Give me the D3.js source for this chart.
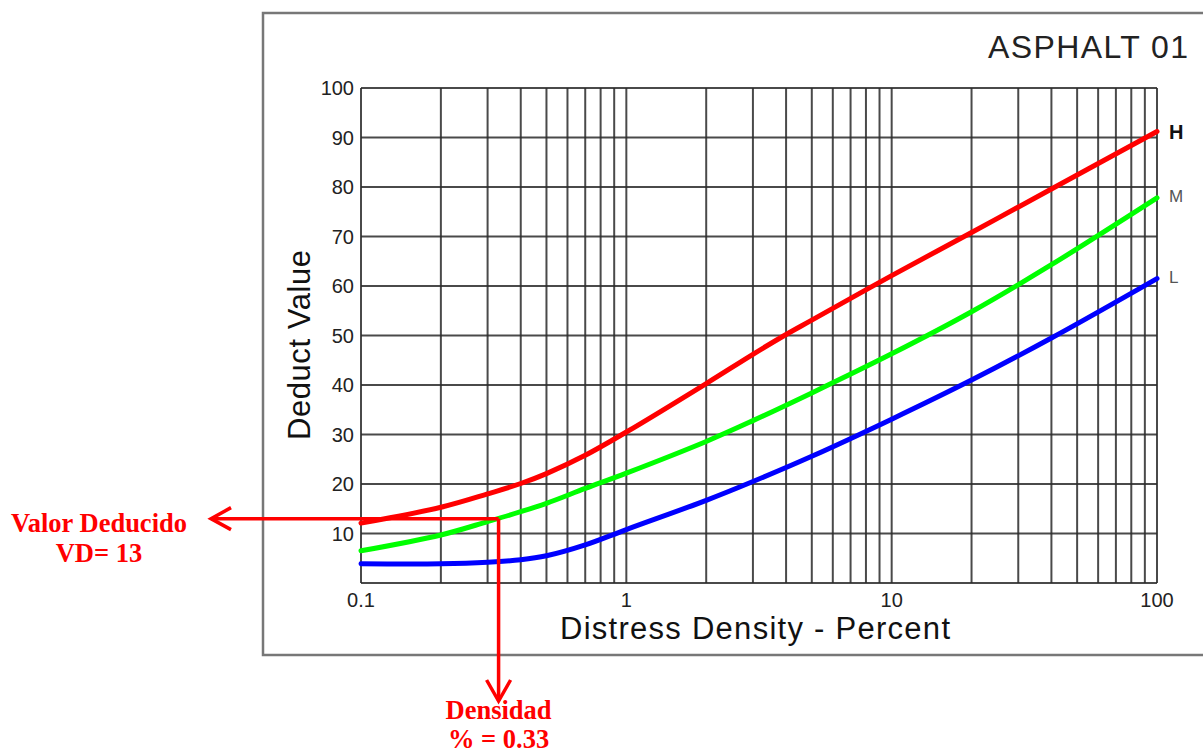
<!DOCTYPE html>
<html>
<head>
<meta charset="utf-8">
<script src="https://cdn.jsdelivr.net/npm/d3@7"></script>
<style>
  html, body { margin: 0; padding: 0; background: #fff; }
  svg { display: block; }
</style>
</head>
<body>
<svg id="chart"></svg>
<script>
// curve readings: [density %, deduct value]
const highSeverity = [[0.1, 12.1], [0.2, 15.3], [0.3, 18], [0.4, 20.1], [0.5, 22.1], [0.7, 25.8], [1, 30.5], [2, 40.3], [3, 46.2], [4, 50.2], [5, 53.1], [10, 62.1], [20, 70.8], [40, 79.6], [100, 91.2]];
const mediumSeverity = [[0.1, 6.5], [0.2, 9.7], [0.3, 12.4], [0.4, 14.4], [0.5, 16.1], [0.7, 19.1], [1, 22.2], [2, 28.6], [3, 32.8], [5, 38.4], [10, 46.3], [20, 54.8], [40, 64.3], [100, 77.8]];
const lowSeverity = [[0.1, 3.9], [0.2, 3.9], [0.3, 4.2], [0.4, 4.7], [0.5, 5.5], [0.7, 7.7], [1, 10.8], [2, 16.7], [3, 20.5], [5, 25.6], [10, 33.1], [20, 41], [40, 49.5], [100, 61.5]];
const severityLabels = ["H", "M", "L"];
const xTickLabels = ["0.1", "1", "10", "100"];
const yTickValues = [10, 20, 30, 40, 50, 60, 70, 80, 90, 100];
const readDensity = 0.33;
const readValue = 13;

const width = 1203, height = 753;
const svg = d3.select("#chart").attr("width", width).attr("height", height);

const x = d3.scaleLog().domain([0.1, 100]).range([361, 1157]);
const y = d3.scaleLinear().domain([0, 100]).range([583, 88]);

const sans = "Liberation Sans, Arial, sans-serif";
const serif = "Liberation Serif, Times New Roman, serif";

// outer frame
svg.append("rect")
  .attr("x", 263).attr("y", 13)
  .attr("width", 960).attr("height", 642)
  .attr("fill", "none")
  .attr("stroke", "#777")
  .attr("stroke-width", 2.5);

svg.append("text")
  .attr("x", 1188).attr("y", 58)
  .attr("text-anchor", "end")
  .attr("font-family", sans)
  .attr("font-size", 32)
  .attr("textLength", 200)
  .attr("lengthAdjust", "spacing")
  .attr("fill", "#222")
  .text("ASPHALT 01");

// grid
const grid = svg.append("g")
  .attr("stroke", "#2a2a2a")
  .attr("stroke-width", 2)
  .attr("stroke-opacity", 0.85);

const xGrid = [];
for (let dec = 0.1; dec < 100; dec *= 10) {
  for (let k = 1; k < 10; k++) xGrid.push(+(dec * k).toPrecision(3));
}
xGrid.push(100);

grid.selectAll(".vline")
  .data(xGrid)
  .enter()
  .append("line")
  .attr("x1", d => x(d)).attr("x2", d => x(d))
  .attr("y1", y(0)).attr("y2", y(100));

grid.selectAll(".hline")
  .data([0].concat(yTickValues))
  .enter()
  .append("line")
  .attr("x1", x(0.1)).attr("x2", x(100))
  .attr("y1", d => y(d)).attr("y2", d => y(d));

// tick labels
svg.append("g").selectAll("text")
  .data(yTickValues)
  .enter()
  .append("text")
  .attr("x", 354)
  .attr("y", d => y(d) + 7)
  .attr("text-anchor", "end")
  .attr("font-family", sans)
  .attr("font-size", 20)
  .attr("fill", "#222")
  .text(d => d);

svg.append("g").selectAll("text")
  .data(xTickLabels)
  .enter()
  .append("text")
  .attr("x", d => x(+d))
  .attr("y", 607)
  .attr("text-anchor", "middle")
  .attr("font-family", sans)
  .attr("font-size", 20)
  .attr("fill", "#222")
  .text(d => d);

svg.append("text")
  .attr("x", 755).attr("y", 639)
  .attr("text-anchor", "middle")
  .attr("font-family", sans)
  .attr("font-size", 31)
  .attr("textLength", 390)
  .attr("lengthAdjust", "spacing")
  .attr("fill", "#111")
  .text("Distress Density - Percent");

svg.append("text")
  .attr("transform", "translate(310,345) rotate(-90)")
  .attr("text-anchor", "middle")
  .attr("font-family", sans)
  .attr("font-size", 31)
  .attr("textLength", 190)
  .attr("lengthAdjust", "spacing")
  .attr("fill", "#111")
  .text("Deduct Value");

// curves
const line = d3.line()
  .x(d => x(d[0]))
  .y(d => y(d[1]))
  .curve(d3.curveCatmullRom.alpha(0.5));

const series = [
  { data: highSeverity, color: "#ff0000" },
  { data: mediumSeverity, color: "#00ff00" },
  { data: lowSeverity, color: "#0000ff" }
];

svg.append("g").selectAll("path")
  .data(series)
  .enter()
  .append("path")
  .attr("fill", "none")
  .attr("stroke", d => d.color)
  .attr("stroke-width", 5)
  .attr("stroke-linecap", "round")
  .attr("d", d => line(d.data));

svg.append("g").selectAll("text")
  .data(series)
  .enter()
  .append("text")
  .attr("x", 1169)
  .attr("y", (d, i) => y(d.data[d.data.length - 1][1]) + (i === 0 ? 7 : 4))
  .attr("font-family", sans)
  .attr("font-size", (d, i) => i === 0 ? 20 : 17)
  .attr("font-weight", (d, i) => i === 0 ? "bold" : "normal")
  .attr("fill", (d, i) => i === 0 ? "#111" : "#555")
  .text((d, i) => severityLabels[i]);

// reading annotation
const px = x(readDensity), py = y(readValue);
const red = "#ff0000";
const ann = svg.append("g")
  .attr("stroke", red)
  .attr("stroke-width", 3.5)
  .attr("fill", "none");

ann.append("path").attr("d", `M${px},${py} H211`);
ann.append("path").attr("d", `M231,${py - 11} L211,${py} L231,${py + 11}`);
ann.append("path").attr("d", `M${px},${py} V701`);
ann.append("path").attr("d", `M${px - 12},680 L${px},701 L${px + 12},680`);

const annText = [
  { t: "Valor Deducido", x: 99, y: 532 },
  { t: "VD= " + readValue, x: 99, y: 562 },
  { t: "Densidad", x: px, y: 719 },
  { t: "% = " + readDensity, x: px, y: 748 }
];
svg.append("g").selectAll("text")
  .data(annText)
  .enter()
  .append("text")
  .attr("x", d => d.x).attr("y", d => d.y)
  .attr("text-anchor", "middle")
  .attr("font-family", serif).attr("font-weight", "bold")
  .attr("font-size", 26.5).attr("fill", red)
  .text(d => d.t);
</script>
</body>
</html>
